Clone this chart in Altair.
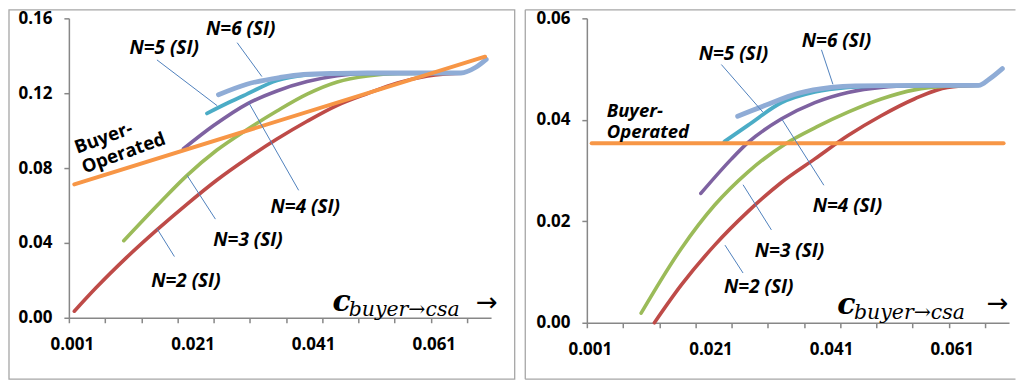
import altair as alt
import pandas as pd

# ---------------- data ----------------
SERIES = ["N=2 (SI)", "N=3 (SI)", "N=4 (SI)", "N=5 (SI)", "N=6 (SI)", "Buyer-Operated"]
COLORS = ["#BE4B48", "#9BBB59", "#7E62A1", "#4BACC6", "#8FACD6", "#F79646"]
WIDTHS = [3.6, 3.6, 3.6, 3.8, 4.8, 4.0]

X_TICKS = [0.0005 + 0.006 * k for k in range(12)]
X_LABELS = [0.001, 0.021, 0.041, 0.061]
L_YTICKS = [0.0, 0.04, 0.08, 0.12, 0.16]
R_YTICKS = [0.0, 0.02, 0.04, 0.06]

# left panel
L_n2_x = [0.0014, 0.005, 0.010, 0.015, 0.020, 0.025, 0.030, 0.035, 0.040, 0.045, 0.050, 0.055, 0.060, 0.0625, 0.0655]
L_n2_y = [0.0035, 0.016, 0.032, 0.0467, 0.0605, 0.0735, 0.085, 0.0955, 0.105, 0.1135, 0.1198, 0.1255, 0.1292, 0.1302, 0.1307]
L_n3_x = [0.0096, 0.0157, 0.0201, 0.025, 0.030, 0.035, 0.040, 0.045, 0.050, 0.055, 0.0655]
L_n3_y = [0.0412, 0.0619, 0.0761, 0.0895, 0.1005, 0.1105, 0.1195, 0.1260, 0.1292, 0.1305, 0.1307]
L_n4_x = [0.0195, 0.0245, 0.030, 0.035, 0.040, 0.045, 0.050, 0.0655]
L_n4_y = [0.0903, 0.1027, 0.1142, 0.1212, 0.1262, 0.1293, 0.1305, 0.1307]
L_n5_x = [0.0234, 0.027, 0.030, 0.035, 0.040, 0.045, 0.0655]
L_n5_y = [0.1092, 0.1150, 0.1195, 0.1268, 0.1298, 0.1305, 0.1307]
L_n6_x = [0.0253, 0.030, 0.0355, 0.0394, 0.045, 0.050, 0.060, 0.0655, 0.0679, 0.0697]
L_n6_y = [0.1192, 0.1248, 0.1284, 0.1300, 0.1306, 0.1308, 0.1308, 0.1308, 0.1337, 0.1381]
L_bo_x = [0.0014, 0.0695]
L_bo_y = [0.0713, 0.1395]

# right panel
R_n2_x = [0.0117, 0.0162, 0.0217, 0.0272, 0.0328, 0.0383, 0.0438, 0.0493, 0.0548, 0.0603, 0.0655]
R_n2_y = [0.0, 0.0075, 0.0153, 0.0219, 0.0277, 0.0323, 0.0369, 0.0408, 0.0441, 0.0464, 0.0468]
R_n3_x = [0.0095, 0.0162, 0.0217, 0.0272, 0.0336, 0.0386, 0.0438, 0.0493, 0.0548, 0.060, 0.0655]
R_n3_y = [0.0019, 0.0147, 0.0232, 0.0297, 0.0354, 0.0386, 0.0415, 0.0441, 0.0459, 0.0466, 0.0468]
R_n4_x = [0.0194, 0.0245, 0.0272, 0.0328, 0.0383, 0.0438, 0.0493, 0.055, 0.0655]
R_n4_y = [0.0255, 0.0323, 0.0355, 0.0402, 0.0434, 0.0454, 0.0464, 0.0467, 0.0468]
R_n5_x = [0.0233, 0.0272, 0.0328, 0.0383, 0.0438, 0.050, 0.0655]
R_n5_y = [0.0357, 0.0389, 0.0434, 0.0455, 0.0464, 0.0467, 0.0468]
R_n6_x = [0.0255, 0.030, 0.0355, 0.041, 0.045, 0.055, 0.0655, 0.0672, 0.0694]
R_n6_y = [0.0407, 0.0428, 0.0452, 0.0464, 0.0467, 0.0468, 0.0468, 0.0480, 0.0501]
R_bo_x = [0.0013, 0.0696]
R_bo_y = [0.0354, 0.0354]

# annotation labels (text, x, y) and leader lines (x, y, x2, y2)
L_lab_text = ["N=6 (SI)", "N=5 (SI)", "N=4 (SI)", "N=3 (SI)", "N=2 (SI)"]
L_lab_x = [0.0290, 0.0163, 0.0397, 0.0302, 0.0199]
L_lab_y = [0.1541, 0.1443, 0.0593, 0.0416, 0.0199]
L_lead_x = [0.0284, 0.0151, 0.0386, 0.0248, 0.0180]
L_lead_y = [0.1470, 0.1378, 0.0681, 0.0527, 0.0327]
L_lead_x2 = [0.0325, 0.0251, 0.0303, 0.0201, 0.0151]
L_lead_y2 = [0.1289, 0.1133, 0.1151, 0.0761, 0.0477]

R_lab_text = ["N=6 (SI)", "N=5 (SI)", "N=4 (SI)", "N=3 (SI)", "N=2 (SI)"]
R_lab_x = [0.0419, 0.0248, 0.0437, 0.0341, 0.0290]
R_lab_y = [0.0555, 0.0529, 0.0231, 0.0142, 0.0070]
R_lead_x = [0.0394, 0.0228, 0.0398, 0.0311, 0.0264]
R_lead_y = [0.0538, 0.0509, 0.0271, 0.0183, 0.0098]
R_lead_x2 = [0.0413, 0.0297, 0.0328, 0.0264, 0.0234]
R_lead_y2 = [0.0470, 0.0415, 0.0402, 0.0272, 0.0153]

BO_TEXT = "Buyer-\nOperated"
L_bo_pos = (0.0019, 0.0876)
R_bo_pos = (0.0038, 0.0405)

# axis title pieces: (c, subscript, arrow) positions
L_title = [(0.0442, 0.0035), (0.0469, 0.0008), (0.0680, 0.0078)]
R_title = [(0.0420, 0.0017), (0.0448, 0.0008), (0.0668, 0.0036)]

XMIN, XMAX = 0.0005, 0.0705
AXC = "#878787"
BORDER = "#A6A6A6"
FONT = "Open Sans"

lab_list = ",".join(str(v) for v in X_LABELS)
is_lab = f"indexof([{lab_list}], datum.value) >= 0"


def frame_layers(rect, open_right):
    one = pd.DataFrame({"k": [0]})
    if not open_right:
        return [alt.Chart(one).mark_rect(fillOpacity=0, stroke=BORDER, strokeWidth=1.3)
                .encode(x=alt.value(rect[0]), x2=alt.value(rect[1]),
                        y=alt.value(rect[2]), y2=alt.value(rect[3]))]
    rule = alt.Chart(one).mark_rule(color=BORDER, strokeWidth=1.3)
    return [
        rule.encode(x=alt.value(rect[0]), x2=alt.value(rect[1]), y=alt.value(rect[2])),
        rule.encode(x=alt.value(rect[0]), x2=alt.value(rect[1]), y=alt.value(rect[3])),
        rule.encode(x=alt.value(rect[0]), y=alt.value(rect[2]), y2=alt.value(rect[3])),
    ]


def panel(lines, ymax, yticks, h, labs, leads, bo_pos, bo_italic, bo_angle, ttl, rect,
          open_right):
    xs = alt.Scale(domain=[XMIN, XMAX], nice=False, zero=False)
    ys = alt.Scale(domain=[0, ymax], nice=False, zero=True)
    xaxis = alt.Axis(values=X_TICKS + X_LABELS,
                     labelExpr=f"{is_lab} ? format(datum.value, '.3f') : ''",
                     tickOpacity={"condition": {"test": is_lab, "value": 0}, "value": 1},
                     labelOverlap=False, labelFlush=False, labelPadding=14)
    yaxis = alt.Axis(values=yticks, format=".2f", labelPadding=12, labelOverlap=False,
                     labelFlush=False)
    X = alt.X("x:Q", scale=xs, axis=xaxis, title=None)
    Y = alt.Y("v:Q", scale=ys, axis=yaxis, title=None)
    cscale = alt.Scale(domain=SERIES, range=COLORS)

    layers = frame_layers(rect, open_right)

    for name, (xx, yy), w in zip(SERIES, lines, WIDTHS):
        df = pd.DataFrame({"x": xx, "v": yy, "s": name})
        layers.append(
            alt.Chart(df).mark_line(interpolate="monotone", strokeCap="round",
                                    strokeJoin="round", strokeWidth=w)
            .encode(x=X, y=Y, color=alt.Color("s:N", scale=cscale, legend=None))
        )

    lead_df = pd.DataFrame({"x": leads[0], "v": leads[1], "x2": leads[2], "v2": leads[3]})
    layers.append(alt.Chart(lead_df).mark_rule(color="#4F81BD", strokeWidth=1)
                  .encode(x=X, y=Y, x2="x2:Q", y2="v2:Q"))

    lab_df = pd.DataFrame({"t": labs[0], "x": labs[1], "v": labs[2]})
    layers.append(alt.Chart(lab_df).mark_text(font=FONT, fontWeight="bold",
                                              fontStyle="italic", fontSize=19,
                                              align="center", baseline="middle",
                                              color="black")
                  .encode(x=X, y=Y, text="t:N"))

    bo_df = pd.DataFrame({"t": [BO_TEXT], "x": [bo_pos[0]], "v": [bo_pos[1]]})
    layers.append(alt.Chart(bo_df).mark_text(font=FONT, fontWeight="bold",
                                             fontStyle="italic" if bo_italic else "normal",
                                             fontSize=18.5, align="left",
                                             baseline="alphabetic", lineBreak="\n",
                                             lineHeight=21, angle=bo_angle,
                                             color="black")
                  .encode(x=X, y=Y, text="t:N"))

    t_df = pd.DataFrame({"t": ["c"], "x": [ttl[0][0]], "v": [ttl[0][1]]})
    layers.append(alt.Chart(t_df).mark_text(font="DejaVu Serif", fontStyle="italic",
                                            fontWeight="bold", fontSize=30, align="left",
                                            baseline="alphabetic", color="black")
                  .encode(x=X, y=Y, text="t:N"))
    s_df = pd.DataFrame({"t": ["buyer\u2192csa"], "x": [ttl[1][0]], "v": [ttl[1][1]]})
    layers.append(alt.Chart(s_df).mark_text(font="DejaVu Serif", fontStyle="italic",
                                            fontSize=20.5, align="left",
                                            baseline="alphabetic", color="black")
                  .encode(x=X, y=Y, text="t:N"))
    a_df = pd.DataFrame({"t": ["\u2192"], "x": [ttl[2][0]], "v": [ttl[2][1]]})
    layers.append(alt.Chart(a_df).mark_text(font="DejaVu Sans", fontSize=26,
                                            align="left", baseline="middle",
                                            color="black")
                  .encode(x=X, y=Y, text="t:N"))

    return alt.layer(*layers).properties(width=423, height=h)


left = panel(
    [(L_n2_x, L_n2_y), (L_n3_x, L_n3_y), (L_n4_x, L_n4_y), (L_n5_x, L_n5_y),
     (L_n6_x, L_n6_y), (L_bo_x, L_bo_y)],
    0.16, L_YTICKS, 300,
    (L_lab_text, L_lab_x, L_lab_y),
    (L_lead_x, L_lead_y, L_lead_x2, L_lead_y2),
    L_bo_pos, False, 340, L_title,
    (-60, 446.7, -8.5, 361.5), False,
)
right = panel(
    [(R_n2_x, R_n2_y), (R_n3_x, R_n3_y), (R_n4_x, R_n4_y), (R_n5_x, R_n5_y),
     (R_n6_x, R_n6_y), (R_bo_x, R_bo_y)],
    0.06, R_YTICKS, 305,
    (R_lab_text, R_lab_x, R_lab_y),
    (R_lead_x, R_lead_y, R_lead_x2, R_lead_y2),
    R_bo_pos, True, 0, R_title,
    (-61.7, 429.5, -8.5, 361.5), True,
)

chart = alt.hconcat(left, right, spacing=8, padding=0).configure_view(
    stroke=None
).configure_axis(
    grid=False, labelFont=FONT, labelFontWeight="bold", labelFontSize=17,
    labelColor="black", domainColor=AXC, tickColor=AXC, domainWidth=1.5,
    tickWidth=1.5, tickSize=5,
).properties(background="white")

chart.save("out.html", embed_options={"renderer": "svg", "actions": False})
